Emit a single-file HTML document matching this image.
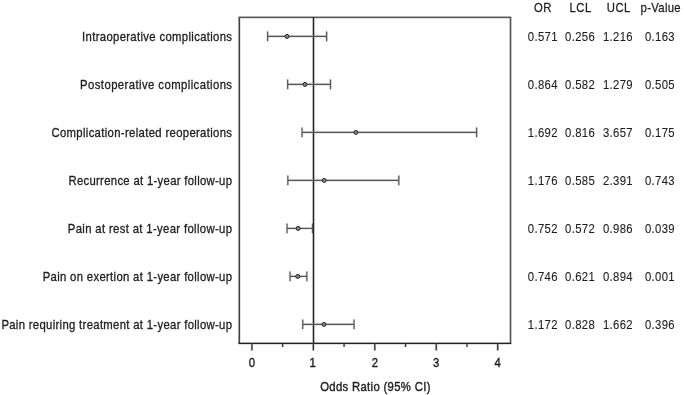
<!DOCTYPE html>
<html><head><meta charset="utf-8"><style>
html,body{margin:0;padding:0;background:#fff;}
body{width:685px;height:395px;overflow:hidden;}
svg{display:block;will-change:transform;}
text{font-family:"Liberation Sans",sans-serif;font-size:13px;stroke:#1e1e1e;}
</style></head><body>
<svg width="685" height="395" viewBox="0 0 685 395">
<g stroke-linecap="butt">
<line x1="239.3" y1="17" x2="239.3" y2="343.9" stroke="#d4d4d4" stroke-width="2.70"/>
<line x1="510.5" y1="17" x2="510.5" y2="343.9" stroke="#d4d4d4" stroke-width="2.70"/>
<line x1="238.6" y1="17.4" x2="511.2" y2="17.4" stroke="#d4d4d4" stroke-width="2.70"/>
<line x1="238.6" y1="343.4" x2="511.2" y2="343.4" stroke="#d4d4d4" stroke-width="2.80"/>
<line x1="313.5" y1="17" x2="313.5" y2="343" stroke="#d4d4d4" stroke-width="2.70"/>
<line x1="251.90" y1="343" x2="251.90" y2="350.5" stroke="#d4d4d4" stroke-width="2.70"/>
<line x1="313.35" y1="343" x2="313.35" y2="350.5" stroke="#d4d4d4" stroke-width="2.70"/>
<line x1="374.80" y1="343" x2="374.80" y2="350.5" stroke="#d4d4d4" stroke-width="2.70"/>
<line x1="436.25" y1="343" x2="436.25" y2="350.5" stroke="#d4d4d4" stroke-width="2.70"/>
<line x1="497.70" y1="343" x2="497.70" y2="350.5" stroke="#d4d4d4" stroke-width="2.70"/>
<line x1="282.62" y1="343" x2="282.62" y2="347" stroke="#d4d4d4" stroke-width="2.60"/>
<line x1="344.08" y1="343" x2="344.08" y2="347" stroke="#d4d4d4" stroke-width="2.60"/>
<line x1="405.52" y1="343" x2="405.52" y2="347" stroke="#d4d4d4" stroke-width="2.60"/>
<line x1="466.98" y1="343" x2="466.98" y2="347" stroke="#d4d4d4" stroke-width="2.60"/>
<line x1="267.63" y1="36.4" x2="326.62" y2="36.4" stroke="#e2e2e2" stroke-width="2.60"/>
<line x1="267.63" y1="31.5" x2="267.63" y2="41.3" stroke="#e2e2e2" stroke-width="2.60"/>
<line x1="326.62" y1="31.5" x2="326.62" y2="41.3" stroke="#e2e2e2" stroke-width="2.60"/>
<line x1="287.66" y1="84.4" x2="330.49" y2="84.4" stroke="#e2e2e2" stroke-width="2.60"/>
<line x1="287.66" y1="79.5" x2="287.66" y2="89.30000000000001" stroke="#e2e2e2" stroke-width="2.60"/>
<line x1="330.49" y1="79.5" x2="330.49" y2="89.30000000000001" stroke="#e2e2e2" stroke-width="2.60"/>
<line x1="302.04" y1="132.4" x2="476.62" y2="132.4" stroke="#e2e2e2" stroke-width="2.60"/>
<line x1="302.04" y1="127.5" x2="302.04" y2="137.3" stroke="#e2e2e2" stroke-width="2.60"/>
<line x1="476.62" y1="127.5" x2="476.62" y2="137.3" stroke="#e2e2e2" stroke-width="2.60"/>
<line x1="287.85" y1="180.4" x2="398.83" y2="180.4" stroke="#e2e2e2" stroke-width="2.60"/>
<line x1="287.85" y1="175.5" x2="287.85" y2="185.3" stroke="#e2e2e2" stroke-width="2.60"/>
<line x1="398.83" y1="175.5" x2="398.83" y2="185.3" stroke="#e2e2e2" stroke-width="2.60"/>
<line x1="287.05" y1="228.4" x2="312.49" y2="228.4" stroke="#e2e2e2" stroke-width="2.60"/>
<line x1="287.05" y1="223.5" x2="287.05" y2="233.3" stroke="#e2e2e2" stroke-width="2.60"/>
<line x1="312.49" y1="223.5" x2="312.49" y2="233.3" stroke="#e2e2e2" stroke-width="2.60"/>
<line x1="290.06" y1="276.4" x2="306.84" y2="276.4" stroke="#e2e2e2" stroke-width="2.60"/>
<line x1="290.06" y1="271.5" x2="290.06" y2="281.29999999999995" stroke="#e2e2e2" stroke-width="2.60"/>
<line x1="306.84" y1="271.5" x2="306.84" y2="281.29999999999995" stroke="#e2e2e2" stroke-width="2.60"/>
<line x1="302.78" y1="324.4" x2="354.03" y2="324.4" stroke="#e2e2e2" stroke-width="2.60"/>
<line x1="302.78" y1="319.5" x2="302.78" y2="329.29999999999995" stroke="#e2e2e2" stroke-width="2.60"/>
<line x1="354.03" y1="319.5" x2="354.03" y2="329.29999999999995" stroke="#e2e2e2" stroke-width="2.60"/>
<line x1="239.3" y1="17" x2="239.3" y2="343.9" stroke="#3a3a3a" stroke-width="1.3"/>
<line x1="510.5" y1="17" x2="510.5" y2="343.9" stroke="#555" stroke-width="1.3"/>
<line x1="238.6" y1="17.4" x2="511.2" y2="17.4" stroke="#555" stroke-width="1.3"/>
<line x1="238.6" y1="343.4" x2="511.2" y2="343.4" stroke="#222" stroke-width="1.4"/>
<line x1="313.5" y1="17" x2="313.5" y2="343" stroke="#222" stroke-width="1.3"/>
<line x1="251.90" y1="343" x2="251.90" y2="350.5" stroke="#333" stroke-width="1.3"/>
<line x1="313.35" y1="343" x2="313.35" y2="350.5" stroke="#333" stroke-width="1.3"/>
<line x1="374.80" y1="343" x2="374.80" y2="350.5" stroke="#333" stroke-width="1.3"/>
<line x1="436.25" y1="343" x2="436.25" y2="350.5" stroke="#333" stroke-width="1.3"/>
<line x1="497.70" y1="343" x2="497.70" y2="350.5" stroke="#333" stroke-width="1.3"/>
<line x1="282.62" y1="343" x2="282.62" y2="347" stroke="#333" stroke-width="1.2"/>
<line x1="344.08" y1="343" x2="344.08" y2="347" stroke="#333" stroke-width="1.2"/>
<line x1="405.52" y1="343" x2="405.52" y2="347" stroke="#333" stroke-width="1.2"/>
<line x1="466.98" y1="343" x2="466.98" y2="347" stroke="#333" stroke-width="1.2"/>
<line x1="267.63" y1="36.4" x2="326.62" y2="36.4" stroke="#555" stroke-width="1.2"/>
<line x1="267.63" y1="31.5" x2="267.63" y2="41.3" stroke="#555" stroke-width="1.2"/>
<line x1="326.62" y1="31.5" x2="326.62" y2="41.3" stroke="#555" stroke-width="1.2"/>
<circle cx="286.99" cy="36.4" r="2.0" fill="#888" stroke="#222" stroke-width="1.0"/>
<line x1="287.66" y1="84.4" x2="330.49" y2="84.4" stroke="#555" stroke-width="1.2"/>
<line x1="287.66" y1="79.5" x2="287.66" y2="89.30000000000001" stroke="#555" stroke-width="1.2"/>
<line x1="330.49" y1="79.5" x2="330.49" y2="89.30000000000001" stroke="#555" stroke-width="1.2"/>
<circle cx="304.99" cy="84.4" r="2.0" fill="#888" stroke="#222" stroke-width="1.0"/>
<line x1="302.04" y1="132.4" x2="476.62" y2="132.4" stroke="#555" stroke-width="1.2"/>
<line x1="302.04" y1="127.5" x2="302.04" y2="137.3" stroke="#555" stroke-width="1.2"/>
<line x1="476.62" y1="127.5" x2="476.62" y2="137.3" stroke="#555" stroke-width="1.2"/>
<circle cx="355.87" cy="132.4" r="2.0" fill="#888" stroke="#222" stroke-width="1.0"/>
<line x1="287.85" y1="180.4" x2="398.83" y2="180.4" stroke="#555" stroke-width="1.2"/>
<line x1="287.85" y1="175.5" x2="287.85" y2="185.3" stroke="#555" stroke-width="1.2"/>
<line x1="398.83" y1="175.5" x2="398.83" y2="185.3" stroke="#555" stroke-width="1.2"/>
<circle cx="324.17" cy="180.4" r="2.0" fill="#888" stroke="#222" stroke-width="1.0"/>
<line x1="287.05" y1="228.4" x2="312.49" y2="228.4" stroke="#555" stroke-width="1.2"/>
<line x1="287.05" y1="223.5" x2="287.05" y2="233.3" stroke="#555" stroke-width="1.2"/>
<line x1="312.49" y1="223.5" x2="312.49" y2="233.3" stroke="#555" stroke-width="1.2"/>
<circle cx="298.11" cy="228.4" r="2.0" fill="#888" stroke="#222" stroke-width="1.0"/>
<line x1="290.06" y1="276.4" x2="306.84" y2="276.4" stroke="#555" stroke-width="1.2"/>
<line x1="290.06" y1="271.5" x2="290.06" y2="281.29999999999995" stroke="#555" stroke-width="1.2"/>
<line x1="306.84" y1="271.5" x2="306.84" y2="281.29999999999995" stroke="#555" stroke-width="1.2"/>
<circle cx="297.74" cy="276.4" r="2.0" fill="#888" stroke="#222" stroke-width="1.0"/>
<line x1="302.78" y1="324.4" x2="354.03" y2="324.4" stroke="#555" stroke-width="1.2"/>
<line x1="302.78" y1="319.5" x2="302.78" y2="329.29999999999995" stroke="#555" stroke-width="1.2"/>
<line x1="354.03" y1="319.5" x2="354.03" y2="329.29999999999995" stroke="#555" stroke-width="1.2"/>
<circle cx="323.92" cy="324.4" r="2.0" fill="#888" stroke="#222" stroke-width="1.0"/>
</g>
<text transform="translate(252.09,366.70) scale(0.8700,1)" text-anchor="middle" fill="#1e1e1e" letter-spacing="0.441" stroke-width="0.4">0</text>
<text transform="translate(312.74,366.70) scale(0.8700,1)" text-anchor="middle" fill="#1e1e1e" letter-spacing="0.441" stroke-width="0.4">1</text>
<text transform="translate(374.99,366.70) scale(0.8700,1)" text-anchor="middle" fill="#1e1e1e" letter-spacing="0.441" stroke-width="0.4">2</text>
<text transform="translate(436.44,366.70) scale(0.8700,1)" text-anchor="middle" fill="#1e1e1e" letter-spacing="0.441" stroke-width="0.4">3</text>
<text transform="translate(497.89,366.70) scale(0.8700,1)" text-anchor="middle" fill="#1e1e1e" letter-spacing="0.441" stroke-width="0.4">4</text>
<text transform="translate(375.47,391.00) scale(0.8700,1)" text-anchor="middle" fill="#1e1e1e" letter-spacing="0.385" stroke-width="0.4">Odds Ratio (95% CI)</text>
<text transform="translate(542.96,12.10) scale(0.8700,1)" text-anchor="middle" fill="#1e1e1e" letter-spacing="0.595" stroke-width="0.25">OR</text>
<text transform="translate(580.61,12.10) scale(0.8700,1)" text-anchor="middle" fill="#1e1e1e" letter-spacing="0.485" stroke-width="0.25">LCL</text>
<text transform="translate(618.83,12.10) scale(0.8700,1)" text-anchor="middle" fill="#1e1e1e" letter-spacing="0.529" stroke-width="0.25">UCL</text>
<text transform="translate(660.77,12.10) scale(0.8700,1)" text-anchor="middle" fill="#1e1e1e" letter-spacing="0.382" stroke-width="0.25">p-Value</text>
<text transform="translate(232.34,41.20) scale(0.8700,1)" text-anchor="end" fill="#1e1e1e" letter-spacing="0.394" stroke-width="0.32">Intraoperative complications</text>
<text transform="translate(542.77,40.90) scale(0.8700,1)" text-anchor="middle" fill="#1e1e1e" letter-spacing="0.397" stroke-width="0.12">0.571</text>
<text transform="translate(580.07,40.90) scale(0.8700,1)" text-anchor="middle" fill="#1e1e1e" letter-spacing="0.397" stroke-width="0.12">0.256</text>
<text transform="translate(617.97,40.90) scale(0.8700,1)" text-anchor="middle" fill="#1e1e1e" letter-spacing="0.397" stroke-width="0.12">1.216</text>
<text transform="translate(659.97,40.90) scale(0.8700,1)" text-anchor="middle" fill="#1e1e1e" letter-spacing="0.397" stroke-width="0.12">0.163</text>
<text transform="translate(232.43,89.20) scale(0.8700,1)" text-anchor="end" fill="#1e1e1e" letter-spacing="0.496" stroke-width="0.32">Postoperative complications</text>
<text transform="translate(542.77,88.90) scale(0.8700,1)" text-anchor="middle" fill="#1e1e1e" letter-spacing="0.397" stroke-width="0.12">0.864</text>
<text transform="translate(580.07,88.90) scale(0.8700,1)" text-anchor="middle" fill="#1e1e1e" letter-spacing="0.397" stroke-width="0.12">0.582</text>
<text transform="translate(617.97,88.90) scale(0.8700,1)" text-anchor="middle" fill="#1e1e1e" letter-spacing="0.397" stroke-width="0.12">1.279</text>
<text transform="translate(659.97,88.90) scale(0.8700,1)" text-anchor="middle" fill="#1e1e1e" letter-spacing="0.397" stroke-width="0.12">0.505</text>
<text transform="translate(232.34,137.20) scale(0.8700,1)" text-anchor="end" fill="#1e1e1e" letter-spacing="0.396" stroke-width="0.32">Complication-related reoperations</text>
<text transform="translate(542.77,136.90) scale(0.8700,1)" text-anchor="middle" fill="#1e1e1e" letter-spacing="0.397" stroke-width="0.12">1.692</text>
<text transform="translate(580.07,136.90) scale(0.8700,1)" text-anchor="middle" fill="#1e1e1e" letter-spacing="0.397" stroke-width="0.12">0.816</text>
<text transform="translate(617.97,136.90) scale(0.8700,1)" text-anchor="middle" fill="#1e1e1e" letter-spacing="0.397" stroke-width="0.12">3.657</text>
<text transform="translate(659.97,136.90) scale(0.8700,1)" text-anchor="middle" fill="#1e1e1e" letter-spacing="0.397" stroke-width="0.12">0.175</text>
<text transform="translate(232.31,185.20) scale(0.8700,1)" text-anchor="end" fill="#1e1e1e" letter-spacing="0.361" stroke-width="0.32">Recurrence at 1-year follow-up</text>
<text transform="translate(542.77,184.90) scale(0.8700,1)" text-anchor="middle" fill="#1e1e1e" letter-spacing="0.397" stroke-width="0.12">1.176</text>
<text transform="translate(580.07,184.90) scale(0.8700,1)" text-anchor="middle" fill="#1e1e1e" letter-spacing="0.397" stroke-width="0.12">0.585</text>
<text transform="translate(617.97,184.90) scale(0.8700,1)" text-anchor="middle" fill="#1e1e1e" letter-spacing="0.397" stroke-width="0.12">2.391</text>
<text transform="translate(659.97,184.90) scale(0.8700,1)" text-anchor="middle" fill="#1e1e1e" letter-spacing="0.397" stroke-width="0.12">0.743</text>
<text transform="translate(232.36,233.20) scale(0.8700,1)" text-anchor="end" fill="#1e1e1e" letter-spacing="0.409" stroke-width="0.32">Pain at rest at 1-year follow-up</text>
<text transform="translate(542.77,232.90) scale(0.8700,1)" text-anchor="middle" fill="#1e1e1e" letter-spacing="0.397" stroke-width="0.12">0.752</text>
<text transform="translate(580.07,232.90) scale(0.8700,1)" text-anchor="middle" fill="#1e1e1e" letter-spacing="0.397" stroke-width="0.12">0.572</text>
<text transform="translate(617.97,232.90) scale(0.8700,1)" text-anchor="middle" fill="#1e1e1e" letter-spacing="0.397" stroke-width="0.12">0.986</text>
<text transform="translate(659.97,232.90) scale(0.8700,1)" text-anchor="middle" fill="#1e1e1e" letter-spacing="0.397" stroke-width="0.12">0.039</text>
<text transform="translate(232.33,281.20) scale(0.8700,1)" text-anchor="end" fill="#1e1e1e" letter-spacing="0.379" stroke-width="0.32">Pain on exertion at 1-year follow-up</text>
<text transform="translate(542.77,280.90) scale(0.8700,1)" text-anchor="middle" fill="#1e1e1e" letter-spacing="0.397" stroke-width="0.12">0.746</text>
<text transform="translate(580.07,280.90) scale(0.8700,1)" text-anchor="middle" fill="#1e1e1e" letter-spacing="0.397" stroke-width="0.12">0.621</text>
<text transform="translate(617.97,280.90) scale(0.8700,1)" text-anchor="middle" fill="#1e1e1e" letter-spacing="0.397" stroke-width="0.12">0.894</text>
<text transform="translate(659.97,280.90) scale(0.8700,1)" text-anchor="middle" fill="#1e1e1e" letter-spacing="0.397" stroke-width="0.12">0.001</text>
<text transform="translate(232.32,329.20) scale(0.8700,1)" text-anchor="end" fill="#1e1e1e" letter-spacing="0.372" stroke-width="0.32">Pain requiring treatment at 1-year follow-up</text>
<text transform="translate(542.77,328.90) scale(0.8700,1)" text-anchor="middle" fill="#1e1e1e" letter-spacing="0.397" stroke-width="0.12">1.172</text>
<text transform="translate(580.07,328.90) scale(0.8700,1)" text-anchor="middle" fill="#1e1e1e" letter-spacing="0.397" stroke-width="0.12">0.828</text>
<text transform="translate(617.97,328.90) scale(0.8700,1)" text-anchor="middle" fill="#1e1e1e" letter-spacing="0.397" stroke-width="0.12">1.662</text>
<text transform="translate(659.97,328.90) scale(0.8700,1)" text-anchor="middle" fill="#1e1e1e" letter-spacing="0.397" stroke-width="0.12">0.396</text>
</svg>
</body></html>
